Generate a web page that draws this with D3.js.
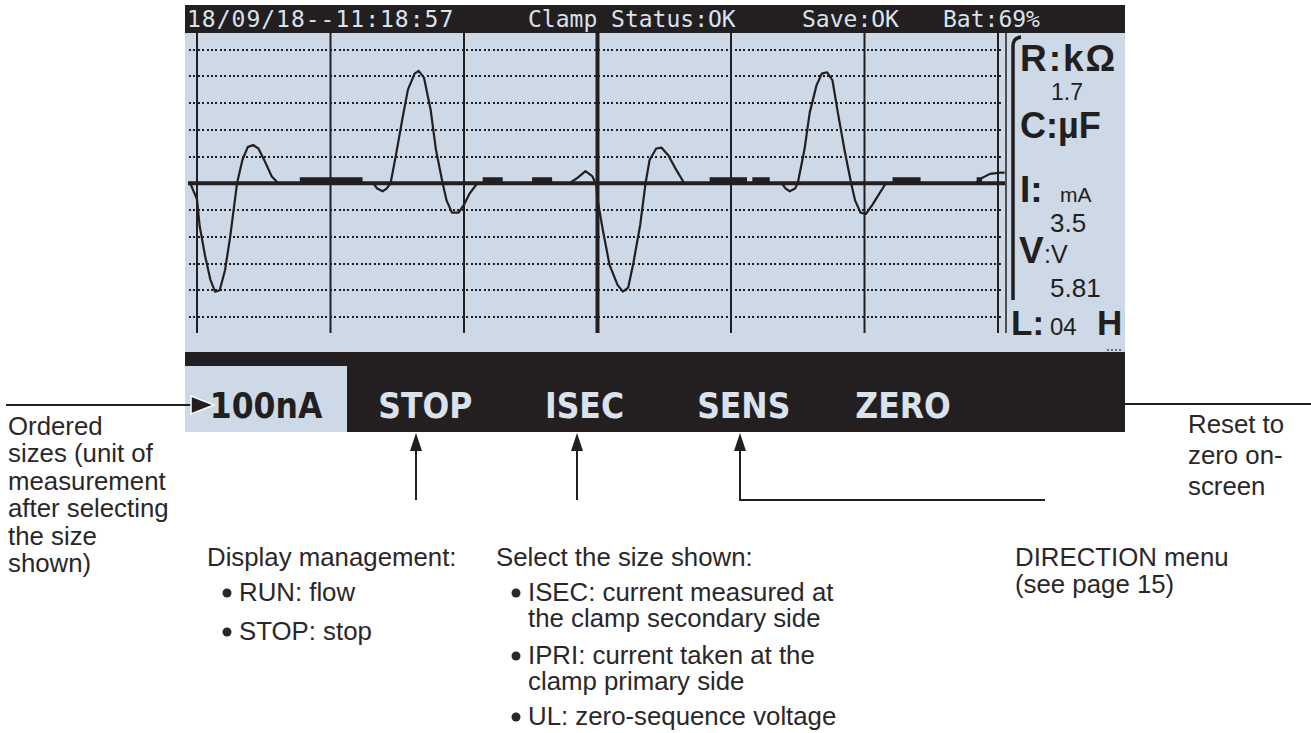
<!DOCTYPE html>
<html>
<head>
<meta charset="utf-8">
<script src="https://cdn.jsdelivr.net/npm/d3@7"></script>
<style>
  body { margin: 0; background: #fff; }
  svg { display: block; }
</style>
</head>
<body>
<script>
// trace: time in grid divisions, amplitude in grid levels
const waveT = [-0.05, -0.03, 0, 0.02, 0.06, 0.1, 0.135, 0.17, 0.21, 0.25, 0.3, 0.34, 0.38, 0.42, 0.46, 0.51, 0.56, 0.61,
  1.32, 1.35, 1.39, 1.42, 1.45, 1.49, 1.54, 1.58, 1.63, 1.66, 1.7, 1.75, 1.79, 1.84, 1.87, 1.91, 1.96, 2.0, 2.04, 2.1,
  2.79, 2.85, 2.91, 2.96, 2.99,
  3.0, 3.04, 3.09, 3.15, 3.19, 3.23, 3.27, 3.32, 3.36, 3.39, 3.44, 3.48, 3.53, 3.59, 3.65,
  4.38, 4.41, 4.44, 4.48, 4.5, 4.55, 4.59, 4.64, 4.68, 4.72, 4.76, 4.8, 4.85, 4.9, 4.93, 4.97, 5.01, 5.06, 5.11, 5.16,
  5.83, 5.88, 5.94, 6.02, 6.05];
const waveV = [0, -0.25, -0.6, -1.6, -2.7, -3.6, -4.05, -4.0, -3.25, -1.95, 0, 0.87, 1.35, 1.43, 1.3, 0.8, 0.25, 0,
  0, -0.2, -0.3, -0.2, 0, 1.05, 2.45, 3.5, 4.1, 4.2, 3.95, 2.75, 1.25, 0, -0.65, -1.1, -1.1, -0.8, -0.4, 0,
  0, 0.2, 0.45, 0.27, -0.05,
  -0.6, -1.75, -3.05, -3.8, -4.05, -3.9, -2.95, -1.55, 0, 0.87, 1.3, 1.33, 1.05, 0.5, 0,
  0, -0.2, -0.3, -0.2, 0, 1.25, 2.65, 3.65, 4.1, 4.15, 3.85, 2.65, 1.25, 0, -0.65, -1.1, -1.15, -0.8, -0.4, 0,
  0, 0.2, 0.35, 0.4, 0.4];

// short noisy stretches sitting on the zero line
const noiseFrom = [0.77, 2.14, 2.51, 3.84, 4.16, 5.21, 5.84];
const noiseTo = [1.24, 2.29, 2.66, 4.12, 4.29, 5.42, 5.88];

const divTicks = [0, 1, 2, 3, 4, 5, 6];
const levelTicks = [-5, -4, -3, -2, -1, 1, 2, 3, 4, 5];

const headerItems = ["18/09/18--11:18:57", "Clamp Status:OK", "Save:OK", "Bat:69%"];
const menuLabels = ["100nA", "STOP", "ISEC", "SENS", "ZERO"];

const panelQty = ["R:", "C:", "I:", "V", "L:"];
const panelUnit = ["kΩ", "µF", "mA", ":V", "04"];
const panelValue = ["1.7", "", "3.5", "5.81", ""];

const noteSizes = ["Ordered", "sizes (unit of", "measurement", "after selecting", "the size", "shown)"];
const noteDisplay = ["Display management:", "RUN: flow", "STOP: stop"];
const noteSelect = ["Select the size shown:", "ISEC: current measured at", "the clamp secondary side",
  "IPRI: current taken at the", "clamp primary side", "UL: zero-sequence voltage"];
const noteDirection = ["DIRECTION menu", "(see page 15)"];
const noteReset = ["Reset to", "zero on-", "screen"];

const W = 1311, H = 733;
const ink = "#231f20", lcd = "#cdd9e6", lcdText = "#d9e2ed";
const noteFont = "'Liberation Sans', Arial, Helvetica, sans-serif";

const svg = d3.select("body").append("svg").attr("width", W).attr("height", H);
svg.append("rect").attr("width", W).attr("height", H).attr("fill", "#fff");

// screen pieces
svg.append("rect").attr("x", 185).attr("y", 5).attr("width", 940).attr("height", 28).attr("fill", ink);
svg.append("rect").attr("x", 185).attr("y", 33).attr("width", 940).attr("height", 319).attr("fill", lcd);
svg.append("rect").attr("x", 185).attr("y", 352).attr("width", 940).attr("height", 80).attr("fill", ink);
svg.append("rect").attr("x", 185).attr("y", 366).attr("width", 162).attr("height", 66).attr("fill", lcd);

const x = d3.scaleLinear().domain([0, 6]).range([197, 998]);
const y = d3.scaleLinear().domain([-5, 5]).range([317, 49.5]);

// header line
const headerX = d3.scaleOrdinal().domain(headerItems).range([187, 528, 802, 943]);
svg.append("g")
  .selectAll("text")
  .data(headerItems)
  .join("text")
  .attr("x", (d) => headerX(d))
  .attr("y", 27)
  .attr("font-family", "'DejaVu Sans Mono', monospace")
  .attr("font-size", 23)
  .attr("letter-spacing", (d, i) => (i === 0 ? 1 : 0))
  .attr("fill", lcdText)
  .text((d) => d);

// dotted level lines
svg.append("g")
  .selectAll("line")
  .data(levelTicks)
  .join("line")
  .attr("x1", 189)
  .attr("x2", 1003)
  .attr("y1", (d) => Math.round(y(d)))
  .attr("y2", (d) => Math.round(y(d)))
  .attr("stroke", ink)
  .attr("stroke-width", 2)
  .attr("stroke-dasharray", "2,2.4")
  .attr("shape-rendering", "crispEdges");

// solid division lines
svg.append("g")
  .selectAll("line")
  .data(divTicks)
  .join("line")
  .attr("x1", (d) => x(d))
  .attr("x2", (d) => x(d))
  .attr("y1", 33)
  .attr("y2", 333)
  .attr("stroke", ink)
  .attr("stroke-width", (d) => (d === 3 ? 4 : 2));

svg.append("line")
  .attr("x1", 1006).attr("x2", 1006).attr("y1", 33).attr("y2", 333)
  .attr("stroke", ink).attr("stroke-width", 1.5);

// zero axis
svg.append("line")
  .attr("x1", 188).attr("x2", 1005)
  .attr("y1", y(0)).attr("y2", y(0))
  .attr("stroke", ink).attr("stroke-width", 4);

svg.append("g")
  .selectAll("rect")
  .data(noiseFrom)
  .join("rect")
  .attr("x", (d) => x(d))
  .attr("width", (d, i) => x(noiseTo[i]) - x(d))
  .attr("y", y(0) - 6)
  .attr("height", 7)
  .attr("fill", ink);

// the trace
const wave = waveT.map((t, i) => [t, waveV[i]]);
svg.append("path")
  .datum(wave)
  .attr("fill", "none")
  .attr("stroke", ink)
  .attr("stroke-width", 2.2)
  .attr("stroke-linejoin", "round")
  .attr("d", d3.line().x((d) => x(d[0])).y((d) => y(d[1])));

// right readout panel
svg.append("path")
  .attr("d", "M1013,300 V46 Q1013,38 1021,37")
  .attr("fill", "none").attr("stroke", ink).attr("stroke-width", 3.5);

const panel = svg.append("g").attr("fill", ink).attr("font-family", noteFont);
const bold = (t, px, py, fs) => panel.append("text").attr("x", px).attr("y", py)
  .attr("font-size", fs).attr("font-weight", "bold").text(t);
const thin = (t, px, py, fs) => panel.append("text").attr("x", px).attr("y", py)
  .attr("font-size", fs).text(t);

bold(panelQty[0] + panelUnit[0], 1020, 71, 37).attr("letter-spacing", 2);
thin(panelValue[0], 1051, 100, 23);
bold(panelQty[1] + panelUnit[1], 1020, 138, 36);
bold(panelQty[2], 1020, 202, 37);
thin(panelUnit[2], 1060, 202, 21);
thin(panelValue[2], 1050, 232, 26);
bold(panelQty[3], 1019, 263, 37);
thin(panelUnit[3], 1044, 263, 25);
thin(panelValue[3], 1050, 297, 26);
bold(panelQty[4], 1011, 335, 35);
thin(panelUnit[4], 1050, 335, 24);
bold("H", 1097, 335, 35);
svg.append("line").attr("x1", 1107).attr("x2", 1123).attr("y1", 350).attr("y2", 350)
  .attr("stroke", "#6b6b70").attr("stroke-width", 2).attr("stroke-dasharray", "2,2");

// soft-key labels
const keyX = d3.scalePoint().domain(menuLabels).range([266, 903]);
svg.append("g")
  .selectAll("text")
  .data(menuLabels)
  .join("text")
  .attr("x", (d) => keyX(d))
  .attr("y", 418)
  .attr("text-anchor", "middle")
  .attr("font-family", "'DejaVu Sans Condensed', 'Liberation Sans Narrow', sans-serif")
  .attr("font-weight", "bold")
  .attr("font-stretch", "condensed")
  .attr("font-size", 35)
  .attr("fill", (d, i) => (i === 0 ? ink : lcdText))
  .text((d) => d);

// call-out lines and arrows
const callouts = svg.append("g").attr("stroke", ink).attr("stroke-width", 2);
callouts.append("line").attr("x1", 6).attr("x2", 196).attr("y1", 405).attr("y2", 405);
svg.append("path").attr("d", "M214,405 L191,396 L191,414 Z")
  .attr("fill", ink).attr("stroke", "#fff").attr("stroke-width", 1.5);

[416, 577, 740].forEach((ax) => {
  callouts.append("line").attr("x1", ax).attr("x2", ax).attr("y1", 500).attr("y2", 446);
  svg.append("path").attr("d", `M${ax},433 L${ax - 6},451 L${ax + 6},451 Z`).attr("fill", ink);
});
callouts.append("line").attr("x1", 739).attr("x2", 1045).attr("y1", 500).attr("y2", 500);
callouts.append("line").attr("x1", 1125).attr("x2", 1311).attr("y1", 404).attr("y2", 404);

// notes
const notes = svg.append("g").attr("font-family", noteFont).attr("font-size", 25.8).attr("fill", "#2b2728");
const note = (t, px, py) => notes.append("text").attr("x", px).attr("y", py).text(t);
const bullet = (t, px, py) => {
  notes.append("circle").attr("cx", px + 5).attr("cy", py - 8).attr("r", 4.5);
  note(t, px + 17, py);
};

noteSizes.forEach((t, i) => note(t, 8, 435 + i * 27.4));

note(noteDisplay[0], 207, 566);
bullet(noteDisplay[1], 222, 601);
bullet(noteDisplay[2], 222, 640);

note(noteSelect[0], 496, 566);
bullet(noteSelect[1], 511, 601);
note(noteSelect[2], 528, 627);
bullet(noteSelect[3], 511, 664);
note(noteSelect[4], 528, 690);
bullet(noteSelect[5], 511, 725);

note(noteDirection[0], 1015, 566);
note(noteDirection[1], 1015, 593);

noteReset.forEach((t, i) => note(t, 1188, 433 + i * 31));
</script>
</body>
</html>
